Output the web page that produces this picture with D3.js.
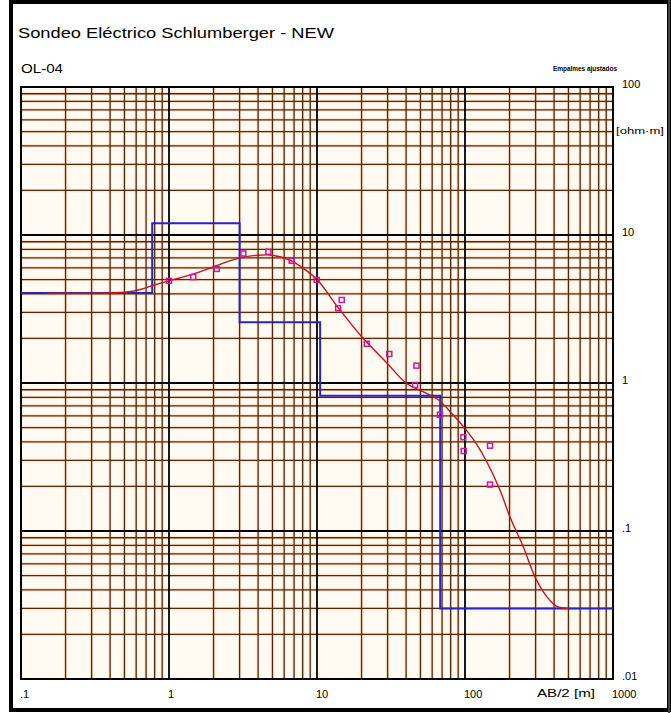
<!DOCTYPE html>
<html><head><meta charset="utf-8">
<script src="https://cdn.jsdelivr.net/npm/d3@7"></script>
<style>body{margin:0;background:#fff;}svg{display:block;}text{font-family:"Liberation Sans",Arial,sans-serif;}</style>
</head><body>
<script>
// ---- data ----
const xTickValues = [0.1, 1, 10, 100, 1000];
const xTickLabels = [".1", "1", "10", "100", "1000"];
const yTickValues = [0.01, 0.1, 1, 10, 100];
const yTickLabels = [".01", ".1", "1", "10", "100"];

// layered model (blue): resistivities and depths of the interfaces
const layerRho = [4.05, 12, 2.57, 0.82, 0.030];
const layerDepth = [0.77, 3.0, 10.5, 68];

// fitted curve (red): AB/2 and apparent resistivity
const curveAB = [0.15, 0.3, 0.5, 0.65, 0.8, 1.0, 1.5, 2.0, 3.0, 4.0, 5.0, 6.5, 8.0, 10, 14, 20, 30, 40, 55, 66, 83, 102, 120, 140, 172, 201, 248, 297, 357, 416, 499];
const curveRho = [4.05, 4.05, 4.1, 4.3, 4.6, 4.9, 5.5, 6.1, 7.0, 7.3, 7.3, 6.8, 6.0, 5.0, 3.2, 2.06, 1.35, 1.0, 0.85, 0.77, 0.61, 0.48, 0.385, 0.295, 0.19, 0.125, 0.078, 0.049, 0.036, 0.031, 0.030];

// measured points (magenta squares)
const obsAB = [1.0, 1.46, 2.1, 3.18, 4.69, 6.75, 9.96, 13.9, 14.7, 21.7, 30.8, 47, 46, 67.7, 97.5, 98, 147.6, 147.6];
const obsRho = [4.9, 5.2, 5.9, 7.5, 7.7, 6.7, 4.97, 3.2, 3.64, 1.84, 1.57, 1.31, 0.97, 0.61, 0.43, 0.347, 0.377, 0.206];

const titleText = "Sondeo Eléctrico Schlumberger - NEW";
const subTitle = "OL-04";
const noteText = "Empalmes ajustados";
const yUnit = "[ohm·m]";
const xUnit = "AB/2 [m]";

// ---- drawing ----
const W = 671, H = 713;
const svg = d3.select("body").append("svg").attr("width", W).attr("height", H);
const x0 = 21, x1 = 613, y0 = 87, y1 = 679;
const x = d3.scaleLog().domain([0.1, 1000]).range([x0, x1]);
const y = d3.scaleLog().domain([0.01, 100]).range([y1, y0]);

// outer frame
svg.append("rect").attr("x", 11).attr("y", 2).attr("width", 658).attr("height", 708)
  .attr("fill", "#fff").attr("stroke", "#000").attr("stroke-width", 4);
svg.append("line").attr("x1", 669).attr("x2", 669).attr("y1", 0).attr("y2", H)
  .attr("stroke", "#fff").attr("stroke-width", 2);
svg.append("line").attr("x1", 669).attr("x2", 669).attr("y1", 0).attr("y2", H)
  .attr("stroke", "#000").attr("stroke-width", 1.5);

// plot background
svg.append("rect").attr("x", x0).attr("y", y0).attr("width", x1 - x0).attr("height", y1 - y0)
  .attr("fill", "#fffaf2");

function minorVals(lo, hi) {
  const out = [];
  for (let e = Math.log10(lo); e < Math.log10(hi); e++) {
    for (let k = 2; k <= 9; k++) out.push(k * Math.pow(10, e));
  }
  return out;
}
const xMinor = minorVals(0.1, 1000), yMinor = minorVals(0.01, 100);
const g = svg.append("g");
// soft halo around grid lines
g.selectAll(".hx").data(xMinor).join("line")
  .attr("x1", d => x(d)).attr("x2", d => x(d)).attr("y1", y0).attr("y2", y1)
  .attr("stroke", "#f6d2ae").attr("stroke-width", 3.5).attr("opacity", 0.45);
g.selectAll(".hy").data(yMinor).join("line")
  .attr("y1", d => y(d)).attr("y2", d => y(d)).attr("x1", x0).attr("x2", x1)
  .attr("stroke", "#f6d2ae").attr("stroke-width", 3.5).attr("opacity", 0.45);
g.selectAll(".mx").data(xMinor).join("line")
  .attr("x1", d => x(d)).attr("x2", d => x(d)).attr("y1", y0).attr("y2", y1)
  .attr("stroke", "#552808").attr("stroke-width", 1.3);
g.selectAll(".my").data(yMinor).join("line")
  .attr("y1", d => y(d)).attr("y2", d => y(d)).attr("x1", x0).attr("x2", x1)
  .attr("stroke", "#552808").attr("stroke-width", 1.3);
g.selectAll(".Mx").data(xTickValues).join("line")
  .attr("x1", d => x(d)).attr("x2", d => x(d)).attr("y1", y0).attr("y2", y1)
  .attr("stroke", "#000").attr("stroke-width", 1.8);
g.selectAll(".My").data(yTickValues).join("line")
  .attr("y1", d => y(d)).attr("y2", d => y(d)).attr("x1", x0).attr("x2", x1)
  .attr("stroke", "#000").attr("stroke-width", 1.8);
svg.append("rect").attr("x", x0).attr("y", y0).attr("width", x1 - x0).attr("height", y1 - y0)
  .attr("fill", "none").attr("stroke", "#000").attr("stroke-width", 2);

// blue model step line
const stepPts = [];
const bounds = [0.1, ...layerDepth, 1000];
layerRho.forEach((r, i) => { stepPts.push([bounds[i], r]); stepPts.push([bounds[i + 1], r]); });
svg.append("path").datum(stepPts)
  .attr("d", d3.line().x(d => x(d[0])).y(d => y(d[1])))
  .attr("fill", "none").attr("stroke", "#2424c8").attr("stroke-width", 2);

// red fitted curve
const curve = curveAB.map((a, i) => [a, curveRho[i]]);
svg.append("path").datum(curve)
  .attr("d", d3.line().x(d => x(d[0])).y(d => y(d[1])).curve(d3.curveCatmullRom.alpha(0.5)))
  .attr("fill", "none").attr("stroke", "#cc1020").attr("stroke-width", 1.4);

// observed squares
const obs = obsAB.map((a, i) => [a, obsRho[i]]);
svg.selectAll(".obs").data(obs).join("rect")
  .attr("x", d => x(d[0]) - 2.5).attr("y", d => y(d[1]) - 2.5)
  .attr("width", 5).attr("height", 5)
  .attr("fill", "none").attr("stroke", "#d414a0").attr("stroke-width", 1.5);

// texts
svg.append("text").attr("x", 18).attr("y", 38).attr("font-size", 14)
  .attr("textLength", 316).attr("lengthAdjust", "spacingAndGlyphs").text(titleText);
svg.append("text").attr("x", 21).attr("y", 73).attr("font-size", 13)
  .attr("textLength", 42).attr("lengthAdjust", "spacingAndGlyphs").text(subTitle);
svg.append("text").attr("x", 553).attr("y", 71).attr("font-size", 8).attr("font-weight", "bold")
  .attr("textLength", 64).attr("lengthAdjust", "spacingAndGlyphs").text(noteText);
svg.append("text").attr("x", 616).attr("y", 134).attr("font-size", 9)
  .attr("textLength", 48).attr("lengthAdjust", "spacingAndGlyphs").text(yUnit);
svg.append("text").attr("x", 537).attr("y", 697).attr("font-size", 10)
  .attr("textLength", 58).attr("lengthAdjust", "spacingAndGlyphs").text(xUnit);

svg.selectAll(".yl").data(yTickValues).join("text")
  .attr("x", 622).attr("y", d => y(d) + 1).attr("font-size", 11)
  .text((d, i) => yTickLabels[i]);
svg.selectAll(".xl").data(xTickValues).join("text")
  .attr("x", d => x(d) - 1).attr("y", 698).attr("font-size", 11)
  .text((d, i) => xTickLabels[i]);
</script>
</body></html>
